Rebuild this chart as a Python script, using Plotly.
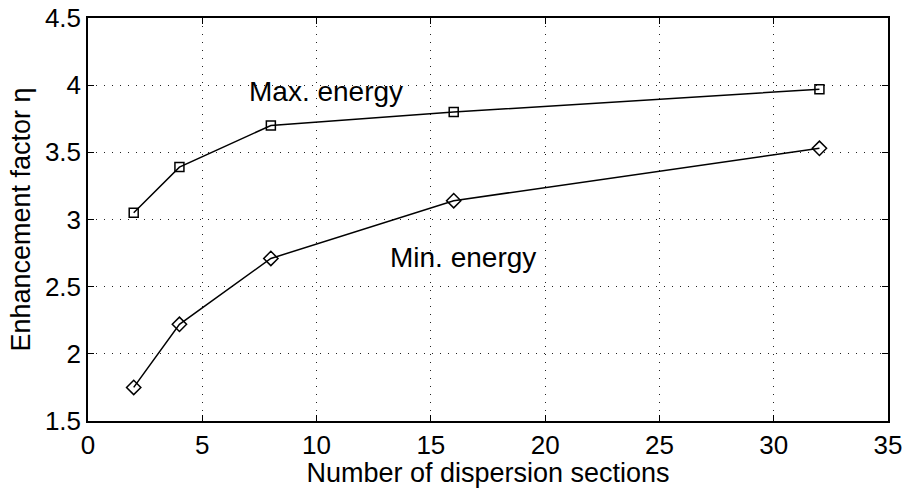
import plotly.graph_objects as go

sections = [2, 4, 8, 16, 32]
max_energy = [3.05, 3.39, 3.70, 3.80, 3.97]
min_energy = [1.75, 2.22, 2.71, 3.14, 3.53]

x_ticks = [0, 5, 10, 15, 20, 25, 30, 35]
y_ticks = [1.5, 2, 2.5, 3, 3.5, 4, 4.5]

FONT = "Liberation Sans, Arial, Helvetica"

fig = go.Figure()
fig.add_trace(go.Scatter(x=sections, y=max_energy, mode="lines+markers",
                         line=dict(color="black", width=1.5),
                         marker=dict(symbol="square-open", size=9, color="black", line=dict(width=1.5))))
fig.add_trace(go.Scatter(x=sections, y=min_energy, mode="lines+markers",
                         line=dict(color="black", width=1.5),
                         marker=dict(symbol="diamond-open", size=11, color="black", line=dict(width=1.5))))

fig.add_annotation(x=10.4, y=3.95, text="Max. energy", showarrow=False,
                   font=dict(family=FONT, size=28, color="black"))
fig.add_annotation(x=16.4, y=2.72, text="Min. energy", showarrow=False,
                   font=dict(family=FONT, size=28, color="black"))

axis_common = dict(showline=True, linecolor="black", linewidth=1.5, mirror="ticks",
                   ticks="inside", ticklen=6, tickcolor="black",
                   showgrid=True, gridcolor="#222", gridwidth=1, griddash="1px,7px",
                   zeroline=False, automargin=False,
                   tickfont=dict(family=FONT, size=26, color="black"))

fig.update_layout(
    width=907, height=488,
    margin=dict(l=88, r=19, t=18, b=67),
    paper_bgcolor="white", plot_bgcolor="white",
    showlegend=False,
    xaxis=dict(range=[0, 35], tickvals=x_ticks,
               title=dict(text="Number of dispersion sections", standoff=8,
                          font=dict(family=FONT, size=27, color="black")), **axis_common),
    yaxis=dict(range=[1.5, 4.5], tickvals=y_ticks, ticktext=[str(v) for v in y_ticks],
               title=dict(text="Enhancement factor η", standoff=6,
                          font=dict(family=FONT, size=27, color="black")), **axis_common),
)

fig.write_html("out.html")
